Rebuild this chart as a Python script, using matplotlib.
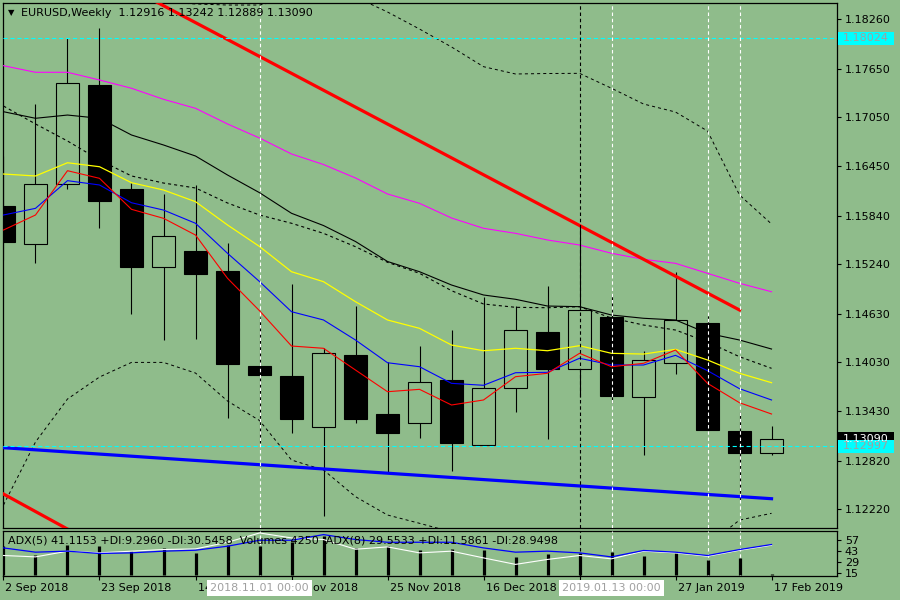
import matplotlib
matplotlib.use("Agg")
import matplotlib.pyplot as plt
from matplotlib.patches import Rectangle
from matplotlib.transforms import blended_transform_factory, offset_copy

plt.rcParams['font.family'] = ['DejaVu Sans']
plt.rcParams['lines.scale_dashes'] = False

BG = '#8fbc8b'

# weekly EURUSD candles, 2 Sep 2018 .. 17 Feb 2019
opens = [1.15960, 1.15485, 1.16235, 1.17451, 1.16168, 1.15211, 1.15402, 1.15156, 1.13985, 1.13863,
         1.13231, 1.14122, 1.13395, 1.13280, 1.13814, 1.13009, 1.13712, 1.14406, 1.13946, 1.14587,
         1.13601, 1.14020, 1.14517, 1.13185, 1.12916]
highs = [1.16581, 1.17215, 1.18031, 1.18152, 1.16242, 1.16110, 1.16219, 1.15506, 1.14590, 1.14997,
         1.14205, 1.14726, 1.14032, 1.14233, 1.14430, 1.14841, 1.14726, 1.14973, 1.15721, 1.14874,
         1.14172, 1.15142, 1.14603, 1.13416, 1.13242]
lows = [1.15298, 1.15260, 1.16173, 1.15689, 1.14631, 1.14310, 1.14323, 1.13348, 1.13040, 1.13157,
        1.12141, 1.13280, 1.12671, 1.13103, 1.12696, 1.13009, 1.13423, 1.13091, 1.13600, 1.13527,
        1.12893, 1.13888, 1.13188, 1.12339, 1.12889]
closes = [1.15519, 1.16227, 1.17481, 1.16023, 1.15211, 1.15585, 1.15123, 1.14014, 1.13881, 1.13337,
          1.14143, 1.13337, 1.13164, 1.13786, 1.13041, 1.13712, 1.14430, 1.13946, 1.14673, 1.13621,
          1.14057, 1.14554, 1.13201, 1.12910, 1.13090]

ma_yellow = [1.16353, 1.16329, 1.16492, 1.16443, 1.16246, 1.16156, 1.16012, 1.15725, 1.15460, 1.15149,
             1.15026, 1.14779, 1.14554, 1.14451, 1.14245, 1.14175, 1.14205, 1.14175, 1.14237, 1.14143,
             1.14134, 1.14192, 1.14061, 1.13897, 1.13781]
ma_blue = [1.15848, 1.15930, 1.16271, 1.16218, 1.15999, 1.15909, 1.15746, 1.15376, 1.15028, 1.14656,
           1.14554, 1.14307, 1.14027, 1.13978, 1.13773, 1.13749, 1.13904, 1.13909, 1.14082, 1.13999,
           1.13999, 1.14118, 1.13929, 1.13707, 1.13568]
ma_red = [1.15663, 1.15848, 1.16394, 1.16300, 1.15918, 1.15807, 1.15601, 1.15068, 1.14668, 1.14233,
          1.14205, 1.13937, 1.13670, 1.13699, 1.13506, 1.13568, 1.13855, 1.13897, 1.14143, 1.13978,
          1.14020, 1.14184, 1.13773, 1.13534, 1.13395]
ma_black = [1.17121, 1.17040, 1.17080, 1.17040, 1.16834, 1.16711, 1.16575, 1.16341, 1.16123, 1.15869,
            1.15718, 1.15521, 1.15275, 1.15149, 1.14985, 1.14862, 1.14809, 1.14726, 1.14718, 1.14615,
            1.14575, 1.14554, 1.14390, 1.14307, 1.14196]
ma_black_dash = [1.17191, 1.16970, 1.16760, 1.16526, 1.16329, 1.16242, 1.16181, 1.15996, 1.15848, 1.15746,
                 1.15622, 1.15457, 1.15265, 1.15129, 1.14915, 1.14751, 1.14710, 1.14705, 1.14718, 1.14578,
                 1.14492, 1.14430, 1.14282, 1.14101, 1.13958]
ma_magenta = [1.17688, 1.17607, 1.17607, 1.17512, 1.17410, 1.17274, 1.17163, 1.16970, 1.16797, 1.16600,
              1.16470, 1.16304, 1.16107, 1.15992, 1.15811, 1.15684, 1.15622, 1.15540, 1.15478, 1.15376,
              1.15302, 1.15252, 1.15129, 1.15006, 1.14902]
band_upper = [1.19484, 1.19238, 1.18991, 1.18744, 1.18560, 1.18473, 1.18449, 1.18436, 1.18436, 1.18523,
              1.18560, 1.18535, 1.18350, 1.18140, 1.17919, 1.17676, 1.17586, 1.17592, 1.17594, 1.17410,
              1.17216, 1.17117, 1.16883, 1.16094, 1.15737]
band_lower = [1.12273, 1.13050, 1.13580, 1.13851, 1.14031, 1.14031, 1.13900, 1.13555, 1.13315, 1.12828,
              1.12705, 1.12376, 1.12150, 1.12048, 1.11941, 1.11842, 1.11743, 1.11682, 1.11645, 1.11632,
              1.11645, 1.11694, 1.11780, 1.12088, 1.12171]

# trend lines (bar index, price)
red_line_1 = ([4, 23], [1.18636, 1.14677])
red_line_2 = ([-2, 3], [1.12841, 1.11761])
blue_line = ([-1, 24], [1.13006, 1.12351])

# lower window: ADX lines and tick volumes
adx_blue = [47.1, 41.6, 42.9, 39.9, 40.7, 42.9, 44.1, 49.3, 57.0, 57.0, 64.3, 57.9, 54.4, 54.4, 54.4,
            47.1, 41.6, 42.9, 40.7, 35.5, 43.8, 41.6, 37.3, 45.0, 51.5]
adx_white = [37.3, 35.5, 42.9, 40.7, 42.9, 45.0, 45.8, 54.4, 66.4, 60.0, 57.9, 45.4, 48.4, 40.7, 42.9,
             34.2, 25.8, 32.2, 37.3, 33.0, 42.9, 40.7, 36.4, 44.1, 50.6]
volumes = [116000, 80000, 123000, 116000, 96000, 109000, 89000, 123000, 116000, 136000, 159000, 109000,
           119000, 103000, 105000, 103000, 73000, 87000, 89000, 92000, 79000, 89000, 63000, 68000, 4250]

price_ticks = [1.18260, 1.17650, 1.17050, 1.16450, 1.15840, 1.15240, 1.14630, 1.14030, 1.13430, 1.12820, 1.12220]
adx_ticks = [57, 43, 29, 15]
date_idx = [0, 3, 6, 9, 12, 15, 18, 21, 24]
date_labels = ['2 Sep 2018', '23 Sep 2018', '14 Oct 2018', '4 Nov 2018', '25 Nov 2018',
               '16 Dec 2018', '6 Jan 2019', '27 Jan 2019', '17 Feb 2019']

vlines_white = [8, 19, 22, 23]
vline_black = 18
vline_tags = [(8, '2018.11.01 00:00'), (19, '2019.01.13 00:00')]
hlines_cyan = [1.18024, 1.12997]
last_price = 1.13090

W, H = 900, 600
fig = plt.figure(figsize=(9, 6), dpi=100, facecolor=BG)


def px_box(l, t, r, b):
    return [l / W, 1 - b / H, (r - l) / W, (b - t) / H]


ax = fig.add_axes(px_box(2.5, 3, 836.5, 528))
ax2 = fig.add_axes(px_box(2.5, 531, 836.5, 576))
for a in (ax, ax2):
    a.set_facecolor(BG)
    for s in a.spines.values():
        s.set_linewidth(0.9)
        s.set_color('black')
    a.set_xlim(-0.031, 26.03)

ax.set_ylim(1.11990, 1.18461)
n = len(opens)
xs = list(range(n))

# candles
for i in xs:
    o, h, l, c = opens[i], highs[i], lows[i], closes[i]
    ax.vlines(i, l, h, color='black', lw=0.8, zorder=2)
    bear = c < o
    ax.add_patch(Rectangle((i - 0.36, min(o, c)), 0.72, abs(c - o),
                           facecolor='black' if bear else BG, edgecolor='black',
                           lw=0.8, zorder=2.5))

dash3 = (0, (2.2, 2.2))
ax.plot(xs, band_upper, color='black', lw=0.7, ls=dash3, zorder=3)
ax.plot(xs, band_lower, color='black', lw=0.7, ls=dash3, zorder=3)
ax.plot(xs, ma_magenta, color='#ff00ff', lw=0.8, zorder=3)
ax.plot(xs, ma_black, color='black', lw=0.8, zorder=3)
ax.plot(xs, ma_black_dash, color='black', lw=0.8, ls=dash3, zorder=3)
ax.plot(xs, ma_yellow, color='#ffff00', lw=0.9, zorder=3)
ax.plot(xs, ma_blue, color='#0000ff', lw=0.8, zorder=3)
ax.plot(xs, ma_red, color='#ff0000', lw=0.8, zorder=3)

ax.plot(*red_line_1, color='#ff0000', lw=2.3, zorder=4)
ax.plot(*red_line_2, color='#ff0000', lw=2.3, zorder=4)
ax.plot(*blue_line, color='#0000ff', lw=2.3, zorder=4)

for p in hlines_cyan:
    ax.axhline(p, color='#00ffff', lw=0.8, ls=(0, (3, 2)), zorder=4)

vdash = (0, (2.5, 2))
for a in (ax, ax2):
    for v in vlines_white:
        a.axvline(v, color='white', lw=0.8, ls=vdash, zorder=5)
    a.axvline(vline_black, color='black', lw=0.8, ls=vdash, zorder=5)

# right price scale
ax.yaxis.tick_right()
ax.set_yticks(price_ticks)
ax.set_yticklabels(['%.5f' % t for t in price_ticks])
ax.tick_params(axis='y', direction='out', length=3, width=0.8, pad=3, labelsize=8)
ax.set_xticks([])

# price tags on the scale
tr = blended_transform_factory(fig.transFigure, ax.transData)
tag_h = 13.5 / 8113.0


def price_tag(p, face, text_color):
    ax.add_patch(Rectangle((838 / W, p - tag_h / 2), 56 / W, tag_h, transform=tr,
                           facecolor=face, edgecolor='none', clip_on=False, zorder=6))
    ax.text(843 / W, p, '%.5f' % p, transform=tr, ha='left', va='center',
            fontsize=8, color=text_color, clip_on=False, zorder=7)


price_tag(last_price, 'black', 'white')
price_tag(hlines_cyan[0], '#00ffff', '#a0a0a0')
price_tag(hlines_cyan[1], '#00ffff', '#a0a0a0')

# lower window
ax3 = ax2.twinx()
ax3.set_ylim(-2800, 178400)
ax3.set_yticks([])
ax3.vlines(xs, 0, volumes, color='black', lw=2.3, zorder=2)
ax3.plot(xs, adx_white, color='white', lw=0.8, zorder=3, transform=ax2.transData)
ax3.plot(xs, adx_blue, color='#0000ff', lw=0.9, zorder=3, transform=ax2.transData)
for s in ax3.spines.values():
    s.set_visible(False)

ax2.set_ylim(10.8, 68.95)
ax2.yaxis.tick_right()
ax2.set_yticks(adx_ticks)
ax2.set_yticklabels([str(t) for t in adx_ticks])
ax2.tick_params(axis='y', direction='out', length=3, width=0.8, pad=3, labelsize=8,
                left=False, labelleft=False, right=True, labelright=True)
ax2.set_xticks(date_idx)
ax2.set_xticklabels([])
ax2.tick_params(axis='x', direction='out', length=3, width=0.8)

xt = offset_copy(ax2.get_xaxis_transform(), fig=fig, x=2, y=-12, units='dots')
for i, lab in zip(date_idx, date_labels):
    ax2.text(i, 0, lab, transform=xt, ha='left', va='center', fontsize=8, clip_on=False)

bt = offset_copy(ax2.get_xaxis_transform(), fig=fig, x=0, y=-12, units='dots')
for i, lab in vline_tags:
    ax2.text(i, 0, lab, transform=bt, ha='center', va='center', fontsize=8, color='#a0a0a0',
             clip_on=False, zorder=8,
             bbox=dict(boxstyle='square,pad=0.28', facecolor='white', edgecolor='none'))

fig.text(11 / W, 1 - 12.5 / H, '\u25bc', fontsize=6, ha='center', va='center')
fig.text(21 / W, 1 - 13 / H, 'EURUSD,Weekly  1.12916 1.13242 1.12889 1.13090',
         fontsize=8, ha='left', va='center')
fig.text(8 / W, 1 - 540.5 / H,
         'ADX(5) 41.1153 +DI:9.2960 -DI:30.5458  Volumes 4250  ADX(8) 29.5533 +DI:11.5861 -DI:28.9498',
         fontsize=8, ha='left', va='center')

fig.savefig('out.png', dpi=100, facecolor=BG)
